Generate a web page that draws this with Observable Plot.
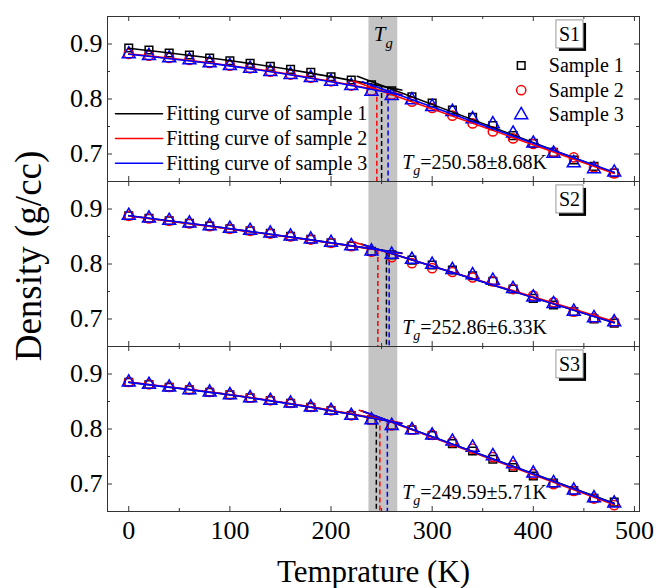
<!DOCTYPE html>
<html><head><meta charset="utf-8">
<script src="https://cdn.jsdelivr.net/npm/d3@7"></script>
<script src="https://cdn.jsdelivr.net/npm/@observablehq/plot@0.6"></script>
<style>body{margin:0;background:#fff;}</style>
</head><body><div id="chart"></div>
<script>
// ---------- data ----------
const panels = ["S1", "S2", "S3"];
const temperatures = [0,20,40,60,80,100,120,140,160,180,200,220,240,260,280,300,320,340,360,380,400,420,440,460,480];

const s1Sample1 = [0.8927,0.8891,0.8836,0.8800,0.8745,0.8696,0.8647,0.8593,0.8538,0.8484,0.8405,0.8345,0.8260,0.8150,0.8040,0.7927,0.7800,0.7666,0.7515,0.7333,0.7193,0.7030,0.6890,0.6775,0.6655];
const s1Sample2 = [0.8820,0.8789,0.8747,0.8711,0.8657,0.8607,0.8558,0.8498,0.8444,0.8389,0.8322,0.8244,0.8150,0.8078,0.7950,0.7836,0.7696,0.7556,0.7410,0.7284,0.7182,0.7030,0.6938,0.6756,0.6647];
const s1Sample3 = [0.8816,0.8785,0.8743,0.8707,0.8653,0.8603,0.8554,0.8494,0.8440,0.8385,0.8318,0.8240,0.8138,0.8060,0.7982,0.7860,0.7770,0.7636,0.7545,0.7375,0.7193,0.7010,0.6836,0.6727,0.6666];

const s2Sample1 = [0.8878,0.8829,0.8787,0.8738,0.8690,0.8642,0.8605,0.8556,0.8502,0.8447,0.8387,0.8327,0.8230,0.8165,0.8070,0.7982,0.7891,0.7787,0.7684,0.7545,0.7375,0.7255,0.7133,0.7000,0.6925];
const s2Sample2 = [0.8876,0.8827,0.8785,0.8736,0.8688,0.8640,0.8603,0.8554,0.8500,0.8445,0.8385,0.8325,0.8225,0.8125,0.8015,0.7925,0.7855,0.7755,0.7684,0.7545,0.7425,0.7305,0.7133,0.7018,0.6945];
const s2Sample3 = [0.8880,0.8831,0.8789,0.8740,0.8692,0.8644,0.8607,0.8558,0.8504,0.8449,0.8389,0.8329,0.8232,0.8172,0.8082,0.7990,0.7895,0.7800,0.7700,0.7550,0.7395,0.7275,0.7138,0.7020,0.6945];

const s3Sample1 = [0.8851,0.8809,0.8760,0.8713,0.8669,0.8622,0.8567,0.8518,0.8469,0.8396,0.8336,0.8245,0.8167,0.8064,0.7985,0.7882,0.7735,0.7600,0.7450,0.7300,0.7145,0.7015,0.6880,0.6740,0.6670];
const s3Sample2 = [0.8855,0.8813,0.8764,0.8717,0.8673,0.8626,0.8571,0.8522,0.8473,0.8400,0.8340,0.8249,0.8170,0.8066,0.7988,0.7895,0.7762,0.7642,0.7490,0.7338,0.7180,0.6995,0.6875,0.6735,0.6615];
const s3Sample3 = [0.8849,0.8807,0.8758,0.8711,0.8667,0.8620,0.8565,0.8516,0.8467,0.8394,0.8334,0.8243,0.8163,0.8060,0.7983,0.7885,0.7775,0.7665,0.7510,0.7365,0.7195,0.7020,0.6885,0.6745,0.6650];

// fitting curves (low-T branch points, high-T straight branch end points)
const lowFitT = [0, 90, 180, 270];
const s1LowFit = [[0.8922,0.8723,0.8471,0.8164],[0.8820,0.8632,0.8385,0.8080],[0.8813,0.8625,0.8377,0.8070]];
const s2LowFit = [[0.8878,0.8666,0.8439,0.8197],[0.8874,0.8662,0.8434,0.8190],[0.8879,0.8667,0.8438,0.8195]];
const s3LowFit = [[0.8851,0.8647,0.8398,0.8102],[0.8855,0.8651,0.8402,0.8107],[0.8848,0.8644,0.8394,0.8098]];
const s1HighFit = [[226,0.8413,480,0.6655],[222,0.8328,480,0.6647],[231,0.8312,480,0.6666]];
const s2HighFit = [[230,0.8362,480,0.6932],[223,0.8394,480,0.6955],[232,0.8350,480,0.6930]];
const s3HighFit = [[230,0.8330,480,0.6650],[228,0.8340,480,0.6625],[232,0.8318,480,0.6640]];

// glass transition of each sample (dashed lines)
const s1Tg = [250.0, 245.3, 256.4], s1TgDensity = [0.8247, 0.8176, 0.8144];
const s2Tg = [254.8, 246.3, 257.5], s2TgDensity = [0.8220, 0.8263, 0.8204];
const s3Tg = [244.8, 248.3, 255.7], s3TgDensity = [0.8230, 0.8200, 0.8158];
const tgBand = [237.5, 266];

const sampleNames = ["Sample 1", "Sample 2", "Sample 3"];
const fitNames = ["Fitting curve of sample 1", "Fitting curve of sample 2", "Fitting curve of sample 3"];
const tgLabels = ["Tg=250.58±8.68K", "Tg=252.86±6.33K", "Tg=249.59±5.71K"];
const tgTitle = "Tg";
const xLabel = "Temprature (K)";
const yLabel = "Density (g/cc)";
const xMajorTicks = [0, 100, 200, 300, 400, 500];
const xMinorTicks = [50, 150, 250, 350, 450];
const yMajorTicks = [0.7, 0.8, 0.9];
const yMinorTicks = [0.75, 0.85];

// ---------- styles & layout ----------
const colors = ["#000000", "#ff0000", "#0000ff"];
const symbols = ["square", "circle", "triangle"];
const dotR = [4.3, 4.6, 4.8];
const W = 660, H = 588, mL = 107, mR = 21, mT = 16, mB = 77;
const pw = W - mL - mR, bh = (H - mT - mB) / panels.length;
const xDomain = [-21, 505], yDomain = [0.65, 0.95];
const font = "Liberation Serif";

const sampleSets = [[s1Sample1, s1Sample2, s1Sample3], [s2Sample1, s2Sample2, s2Sample3], [s3Sample1, s3Sample2, s3Sample3]];
const lowSets = [s1LowFit, s2LowFit, s3LowFit];
const highSets = [s1HighFit, s2HighFit, s3HighFit];
const tgSets = [s1Tg, s2Tg, s3Tg], tgDensSets = [s1TgDensity, s2TgDensity, s3TgDensity];

const points = [], lows = [], highs = [], tgs = [];
panels.forEach((p, i) => {
  sampleSets[i].forEach((arr, j) => arr.forEach((v, k) => points.push({panel: p, sample: j, T: temperatures[k], d: v})));
  lowSets[i].forEach((arr, j) => arr.forEach((v, k) => lows.push({panel: p, sample: j, T: lowFitT[k], d: v})));
  highSets[i].forEach(([t1, d1, t2, d2], j) => highs.push({panel: p, sample: j, T: t1, d: d1}, {panel: p, sample: j, T: t2, d: d2}));
  tgSets[i].forEach((t, j) => tgs.push({panel: p, sample: j, T: t, d: tgDensSets[i][j]}));
});

const lineShape = {draw(context, l) { context.moveTo(0, 0); context.lineTo(0, -l); }};
const tk = "#333";
const txt = {fill: "#000", lineAnchor: "middle"};

const marks = [
  Plot.rect([tgBand], {x1: d => d[0], x2: d => d[1], fill: "#c4c4c4"}),
  Plot.tickY(yMajorTicks, {y: d => d, insetRight: pw - 5, stroke: tk}),
  Plot.tickY(yMinorTicks, {y: d => d, insetRight: pw - 3, stroke: tk}),
  Plot.tickY(yMajorTicks, {y: d => d, insetLeft: pw - 5, stroke: tk}),
  Plot.tickY(yMinorTicks, {y: d => d, insetLeft: pw - 3, stroke: tk}),
  Plot.tickX(xMajorTicks, {x: d => d, insetTop: bh - 5, stroke: tk}),
  Plot.tickX(xMinorTicks, {x: d => d, insetTop: bh - 3, stroke: tk}),
  Plot.tickX(xMajorTicks, {x: d => d, insetBottom: bh - 5, stroke: tk}),
  Plot.tickX(xMinorTicks, {x: d => d, insetBottom: bh - 3, stroke: tk}),
  Plot.frame({stroke: tk})
];
[0, 1, 2].forEach(j => marks.push(
  Plot.ruleX(tgs.filter(d => d.sample === j), {x: "T", y1: "d", y2: yDomain[0], fy: "panel", stroke: colors[j], strokeWidth: 1.5, strokeDasharray: "5,3"})
));
[0, 1, 2].forEach(j => marks.push(
  Plot.dot(points.filter(d => d.sample === j), {x: "T", y: "d", fy: "panel", symbol: symbols[j], r: dotR[j], stroke: colors[j], fill: "none", strokeWidth: 1.5})
));
[0, 1, 2].forEach(j => marks.push(
  Plot.line(lows.filter(d => d.sample === j), {x: "T", y: "d", z: "panel", fy: "panel", stroke: colors[j], strokeWidth: 1.6, curve: "natural"}),
  Plot.line(highs.filter(d => d.sample === j), {x: "T", y: "d", z: "panel", fy: "panel", stroke: colors[j], strokeWidth: 1.6})
));
// legends (panel S1)
[0, 1, 2].forEach(j => marks.push(
  Plot.vector([{panel: "S1"}], {fy: "panel", frameAnchor: "top-left", dx: 8, dy: 97.3 + 24.7 * j, length: 47, rotate: 90, anchor: "start", shape: lineShape, stroke: colors[j], strokeWidth: 1.6}),
  Plot.text([{panel: "S1", t: fitNames[j]}], {...txt, fy: "panel", text: "t", frameAnchor: "top-left", dx: 58.7, dy: 97.3 + 24.7 * j, textAnchor: "start", fontSize: 20}),
  Plot.dot([{panel: "S1"}], {fy: "panel", frameAnchor: "top-right", dx: -118.3, dy: 49 + 24.7 * j, symbol: symbols[j], r: dotR[j], stroke: colors[j], fill: "none", strokeWidth: 1.5}),
  Plot.text([{panel: "S1", t: sampleNames[j]}], {...txt, fy: "panel", text: "t", frameAnchor: "top-right", dx: -90.7, dy: 49 + 24.7 * j, textAnchor: "start", fontSize: 20})
));
marks.push(
  Plot.text(panels.map(p => ({panel: p, t: p})), {...txt, fy: "panel", text: "t", frameAnchor: "top-right", dx: -70, dy: 18, textAnchor: "middle", fontSize: 20}),
  Plot.text(panels.map((p, i) => ({panel: p, t: tgLabels[i]})), {...txt, fy: "panel", text: "t", frameAnchor: "bottom-left", dx: 294.7, dy: -19, textAnchor: "start", fontSize: 20}),
  Plot.text([{panel: "S1", t: tgTitle, x: (tgBand[0] + tgBand[1]) / 2}], {...txt, fy: "panel", x: "x", text: "t", frameAnchor: "top", dy: 18, textAnchor: "middle", fontSize: 21}),
  Plot.axisY({ticks: yMajorTicks, tickSize: 0, tickPadding: 5, tickFormat: d => d.toFixed(1), fontSize: 26, label: null}),
  Plot.axisX({ticks: xMajorTicks, tickSize: 0, tickPadding: 9, fontSize: 26, label: null}),
  Plot.text([{panel: "S3", t: xLabel}], {...txt, fy: "panel", text: "t", frameAnchor: "bottom", dy: 61, textAnchor: "middle", fontSize: 31}),
  Plot.text([{panel: "S2", t: yLabel}], {...txt, fy: "panel", text: "t", frameAnchor: "left", dx: -78, dy: -8, rotate: -90, textAnchor: "middle", fontSize: 37})
);

const svg = Plot.plot({
  width: W, height: H,
  marginLeft: mL, marginRight: mR, marginTop: mT, marginBottom: mB,
  x: {domain: xDomain, label: null},
  y: {domain: yDomain, label: null},
  fy: {domain: panels, padding: 0, axis: null, label: null},
  style: {fontFamily: font, background: "#fff", color: "#000"},
  marks
});
document.getElementById("chart").appendChild(svg);

// ---------- text post-processing: subscripts and boxed panel labels ----------
const ns = "http://www.w3.org/2000/svg";
function tspan(s, attrs) {
  const e = document.createElementNS(ns, "tspan");
  for (const k in attrs) e.setAttribute(k, attrs[k]);
  e.textContent = s;
  return e;
}
svg.querySelectorAll("text").forEach(t => {
  const s = t.textContent;
  if (/^Tg/.test(s)) {
    const fs = parseFloat(getComputedStyle(t).fontSize) || 20;
    t.textContent = "";
    t.appendChild(tspan("T", {"font-style": "italic"}));
    t.appendChild(tspan("g", {"font-style": "italic", "font-size": fs * 0.7, dy: fs * 0.32}));
    if (s.length > 2) t.appendChild(tspan(s.slice(2), {dy: -fs * 0.32}));
  } else if (/^S\d$/.test(s)) {
    const b = t.getBBox(), pad = 3, tr = t.getAttribute("transform");
    const mk = (off, fill, stroke) => {
      const r = document.createElementNS(ns, "rect");
      r.setAttribute("x", b.x - pad + off); r.setAttribute("y", b.y - pad + off);
      r.setAttribute("width", b.width + 2 * pad); r.setAttribute("height", b.height + 2 * pad);
      r.setAttribute("fill", fill); r.setAttribute("stroke", stroke);
      if (tr) r.setAttribute("transform", tr);
      t.parentNode.insertBefore(r, t);
    };
    mk(3, "#000", "none");
    mk(0, "#fff", "#999");
  }
});
</script></body></html>
